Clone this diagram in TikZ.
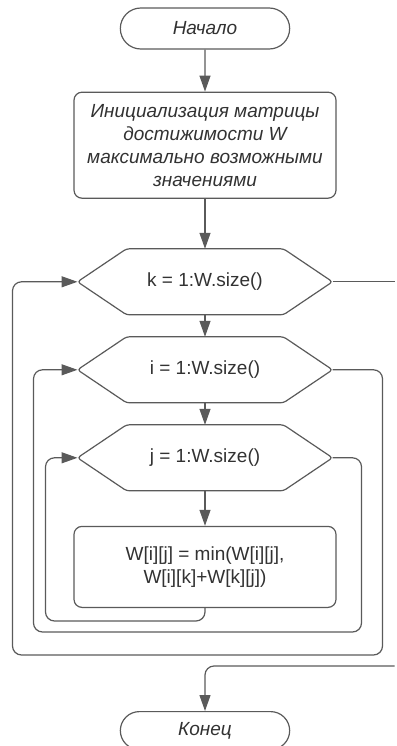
\documentclass[tikz,border=0pt]{standalone}
\usepackage{fontspec}
\setmainfont{Liberation Sans}
\usetikzlibrary{shapes.misc, arrows.meta, positioning, calc}
\definecolor{linegray}{RGB}{90,90,90}
\definecolor{textgray}{RGB}{50,50,50}

\begin{document}
\begin{tikzpicture}[
    x=1pt, y=1pt,
    node distance=42pt,
    term/.style={rounded rectangle, draw=linegray, line width=1.2pt, minimum width=176pt, minimum height=41pt, font=\fontsize{19}{23}\selectfont\itshape, text=textgray},
    box/.style={rectangle, draw=linegray, line width=1.2pt, rounded corners=8pt, minimum width=262pt, align=center, font=\fontsize{19}{23}\selectfont, text=textgray},
    hexbox/.style={rectangle, outer sep=0pt, minimum width=255pt, minimum height=66pt, font=\fontsize{19}{23}\selectfont, text=textgray,
        append after command={\pgfextra{\draw[draw=linegray, line width=1.2pt, rounded corners=3pt]
            (\tikzlastnode.west) -- ([xshift=49pt]\tikzlastnode.north west) -- ([xshift=-49pt]\tikzlastnode.north east)
            -- (\tikzlastnode.east) -- ([xshift=-49pt]\tikzlastnode.south east) -- ([xshift=49pt]\tikzlastnode.south west) -- cycle;}}},
    arrow/.style={-{Triangle[length=16pt, width=11pt]}, draw=linegray, line width=1.2pt},
    flow/.style={draw=linegray, line width=1.2pt, rounded corners=9pt},
]
\useasboundingbox (0,0) rectangle (396,-746);

\node[term] (start) at (205,-28.5) {Начало};
\node[box, font=\fontsize{19}{23}\selectfont\itshape, minimum height=106pt, below=42pt of start] (init) {Инициализация матрицы\\достижимости W\\максимально возможными\\значениями};
\node[hexbox, below=50pt of init] (kloop) {k = 1:W.size()};
\node[hexbox, below=22pt of kloop] (iloop) {i = 1:W.size()};
\node[hexbox, below=22pt of iloop] (jloop) {j = 1:W.size()};
\node[box, minimum height=81pt, below=35pt of jloop] (update) {W[i][j] = min(W[i][j],\\W[i][k]+W[k][j])};
\node[term, minimum height=38pt, below=103pt of update] (finish) {Конец};

\draw[arrow] (start) -- (init);
\draw[arrow] (init) -- (kloop);
\draw[arrow] (kloop) -- (iloop);
\draw[arrow] (iloop) -- (jloop);
\draw[arrow] (jloop) -- (update);

% back to the loop heads
\draw[arrow, flow] (update.south) -- ++(0,-13) -| ([xshift=-32pt]jloop.west) -- (jloop.west);
\draw[arrow, flow] (jloop.east) -- ++(29,0) |- ([yshift=-24pt]update.south) -| ([xshift=-44pt]iloop.west) -- (iloop.west);
\draw[arrow, flow] (iloop.east) -- ++(50,0) |- ([yshift=-47pt]update.south) -| ([xshift=-65pt]kloop.west) -- (kloop.west);

% exit of the outer loop
\coordinate (kout) at ([xshift=62pt]kloop.east);
\coordinate (kback) at ($(kout |- update.south)+(0,-58)$);
\draw[flow] (kloop.east) -- (kout);
\draw[arrow, flow] (kback) -| (finish.north);

\end{tikzpicture}
\end{document}
